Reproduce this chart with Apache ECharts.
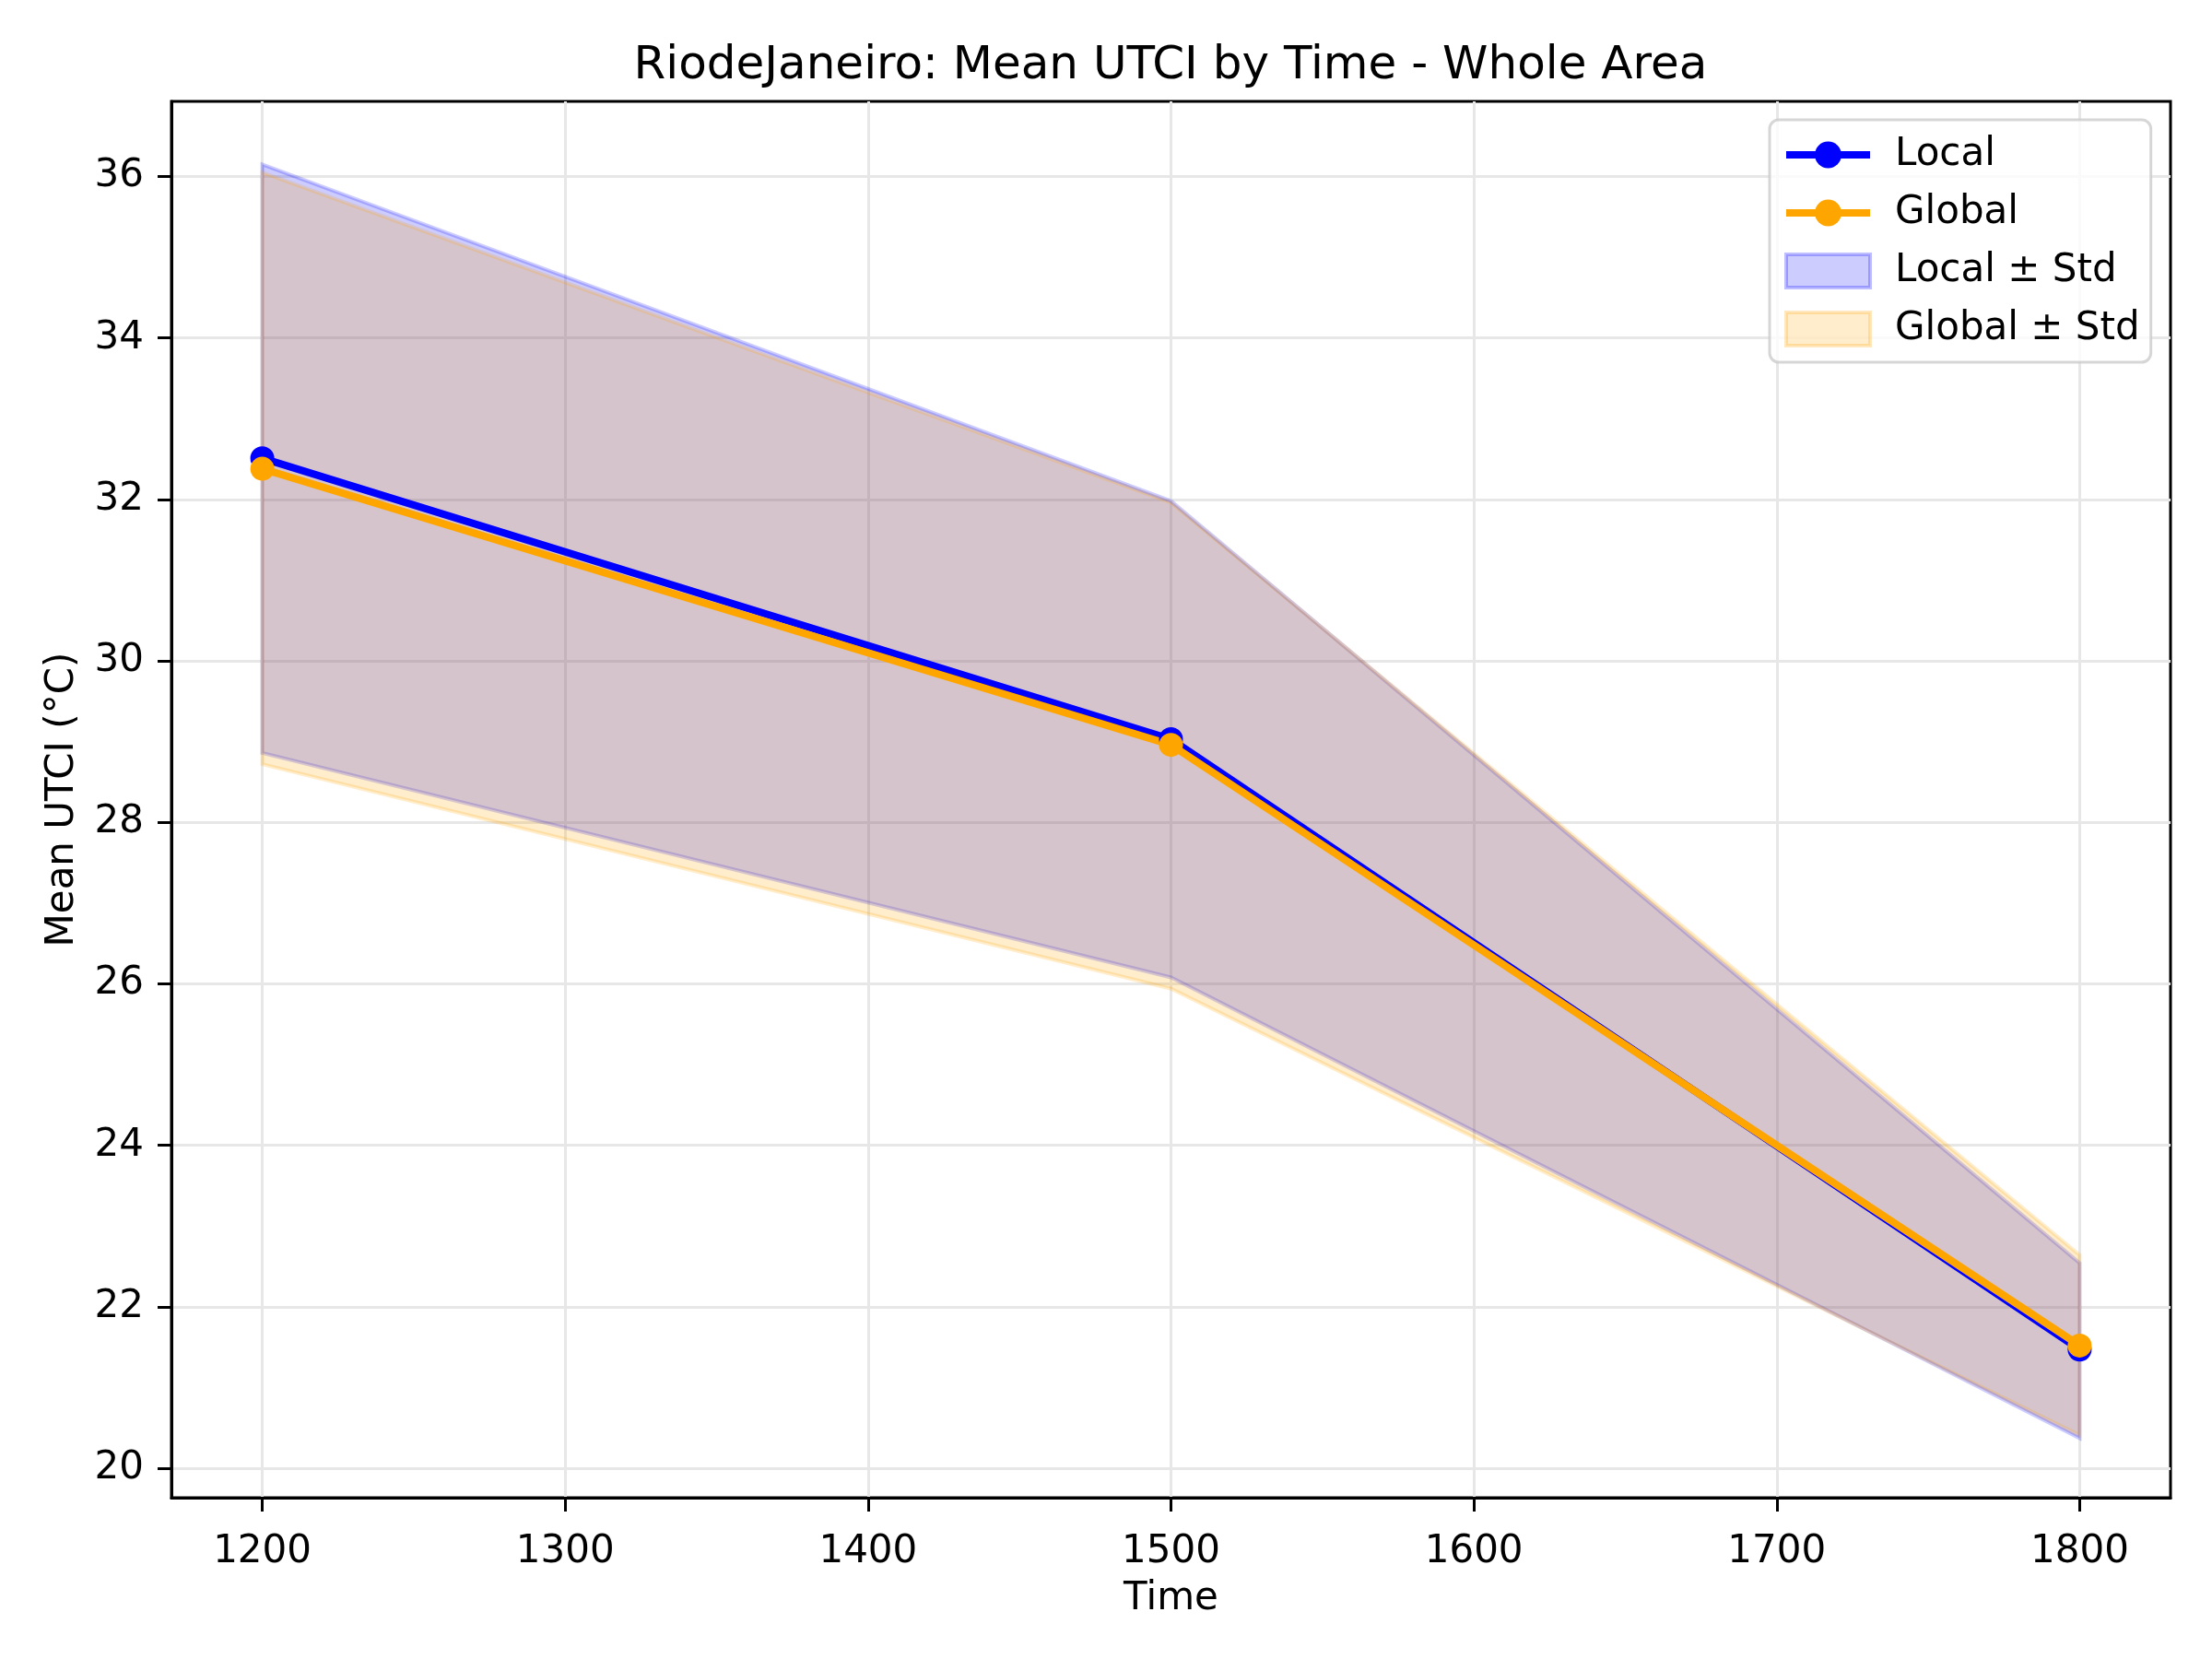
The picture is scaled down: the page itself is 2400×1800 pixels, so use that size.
<!DOCTYPE html>
<html>
<head>
<meta charset="UTF-8">
<script src="https://cdn.jsdelivr.net/npm/echarts@6/dist/echarts.min.js"></script>
<title>Mean UTCI by Time</title>
<style>
  html, body { margin: 0; padding: 0; background: #fff; }
  #graph { width: 2400px; height: 1800px; }
</style>
</head>
<body>
<div id="graph"></div>
<script>
// values
var times = [1200, 1500, 1800];
var localMean = [32.51, 29.03, 21.47];
var globalMean = [32.38, 28.96, 21.52];
var localUpper = [36.15, 31.98, 22.54];
var localLower = [28.86, 26.08, 20.37];
var globalUpper = [36.05, 31.96, 22.64];
var globalLower = [28.72, 25.94, 20.41];
var xTicks = [1200, 1300, 1400, 1500, 1600, 1700, 1800];
var yTicks = [20, 22, 24, 26, 28, 30, 32, 34, 36];

var font = 'DejaVu Sans';

function pairs(ys) {
  var out = [];
  for (var i = 0; i < times.length; i++) out.push([times[i], ys[i]]);
  return out;
}

// shaded band between upper and lower, like fill_between
function band(name, upper, lower, rgb) {
  return {
    name: name,
    type: 'custom',
    z: 1,
    clip: true,
    silent: true,
    itemStyle: { color: 'rgba(' + rgb + ',0.2)' },
    data: [[times[0], upper[0]]],
    renderItem: function (params, api) {
      var pts = [];
      for (var i = 0; i < times.length; i++) pts.push(api.coord([times[i], upper[i]]));
      for (var j = times.length - 1; j >= 0; j--) pts.push(api.coord([times[j], lower[j]]));
      return {
        type: 'polygon',
        shape: { points: pts },
        style: { fill: 'rgba(' + rgb + ',0.2)', stroke: 'rgba(' + rgb + ',0.2)', lineWidth: 4 }
      };
    }
  };
}

function meanLine(name, ys, color) {
  return {
    name: name,
    type: 'line',
    z: 3,
    data: pairs(ys),
    symbol: 'circle',
    symbolSize: 26,
    showAllSymbol: true,
    lineStyle: { color: color, width: 8 },
    itemStyle: { color: color },
    emphasis: { disabled: true }
  };
}

var myChart = echarts.init(document.getElementById('graph'));
var option = {
  animation: false,
  backgroundColor: '#fff',
  title: {
    text: 'RiodeJaneiro: Mean UTCI by Time - Whole Area',
    left: 1270,
    top: 47,
    padding: 0,
    textAlign: 'center',
    textStyle: { fontFamily: font, fontSize: 50, fontWeight: 'normal', color: '#000' }
  },
  legend: {
    orient: 'vertical',
    left: 1920,
    top: 130,
    itemWidth: 91,
    itemHeight: 36,
    itemGap: 21,
    padding: [17, 12, 15, 14],
    borderColor: 'rgba(204,204,204,0.8)',
    borderWidth: 3,
    borderRadius: 10,
    backgroundColor: 'rgba(255,255,255,0.8)',
    textStyle: { fontFamily: font, fontSize: 42, color: '#000', padding: [0, 0, 0, 22] },
    data: [
      { name: 'Local', lineStyle: { color: '#0000ff', width: 8 } },
      { name: 'Global', lineStyle: { color: '#ffa500', width: 8 } },
      { name: 'Local ± Std', icon: 'rect',
        itemStyle: { color: 'rgba(0,0,255,0.2)', borderColor: 'rgba(0,0,255,0.25)', borderWidth: 4 } },
      { name: 'Global ± Std', icon: 'rect',
        itemStyle: { color: 'rgba(255,165,0,0.2)', borderColor: 'rgba(255,165,0,0.25)', borderWidth: 4 } }
    ]
  },
  grid: {
    left: 186,
    right: 45,
    top: 110,
    bottom: 175,
    show: true,
    borderColor: '#000',
    borderWidth: 3,
    backgroundColor: 'transparent'
  },
  xAxis: {
    type: 'value',
    min: 1170,
    max: 1830,
    name: 'Time',
    nameLocation: 'middle',
    nameGap: 89,
    nameTextStyle: { fontFamily: font, fontSize: 42, color: '#000' },
    axisLine: { lineStyle: { color: '#000', width: 3 } },
    axisTick: { show: true, length: 15, customValues: xTicks, lineStyle: { color: '#000', width: 3 } },
    axisLabel: {
      customValues: xTicks, margin: 38, fontFamily: font, fontSize: 42, color: '#000',
      formatter: function (v) { return String(v); }
    },
    splitLine: { show: true, lineStyle: { color: '#e7e7e7', width: 3 } }
  },
  yAxis: {
    type: 'value',
    min: 19.635,
    max: 36.93,
    name: 'Mean UTCI (°C)',
    nameLocation: 'middle',
    nameGap: 97,
    nameRotate: 90,
    nameTextStyle: { fontFamily: font, fontSize: 42, color: '#000' },
    axisLine: { show: true, lineStyle: { color: '#000', width: 3 } },
    axisTick: { show: true, length: 15, customValues: yTicks, lineStyle: { color: '#000', width: 3 } },
    axisLabel: { customValues: yTicks, margin: 30, fontFamily: font, fontSize: 42, color: '#000' },
    splitLine: { show: true, lineStyle: { color: '#e7e7e7', width: 3 } }
  },
  series: [
    band('Local ± Std', localUpper, localLower, '0,0,255'),
    band('Global ± Std', globalUpper, globalLower, '255,165,0'),
    meanLine('Local', localMean, '#0000ff'),
    meanLine('Global', globalMean, '#ffa500')
  ]
};
myChart.setOption(option);
</script>
</body>
</html>
